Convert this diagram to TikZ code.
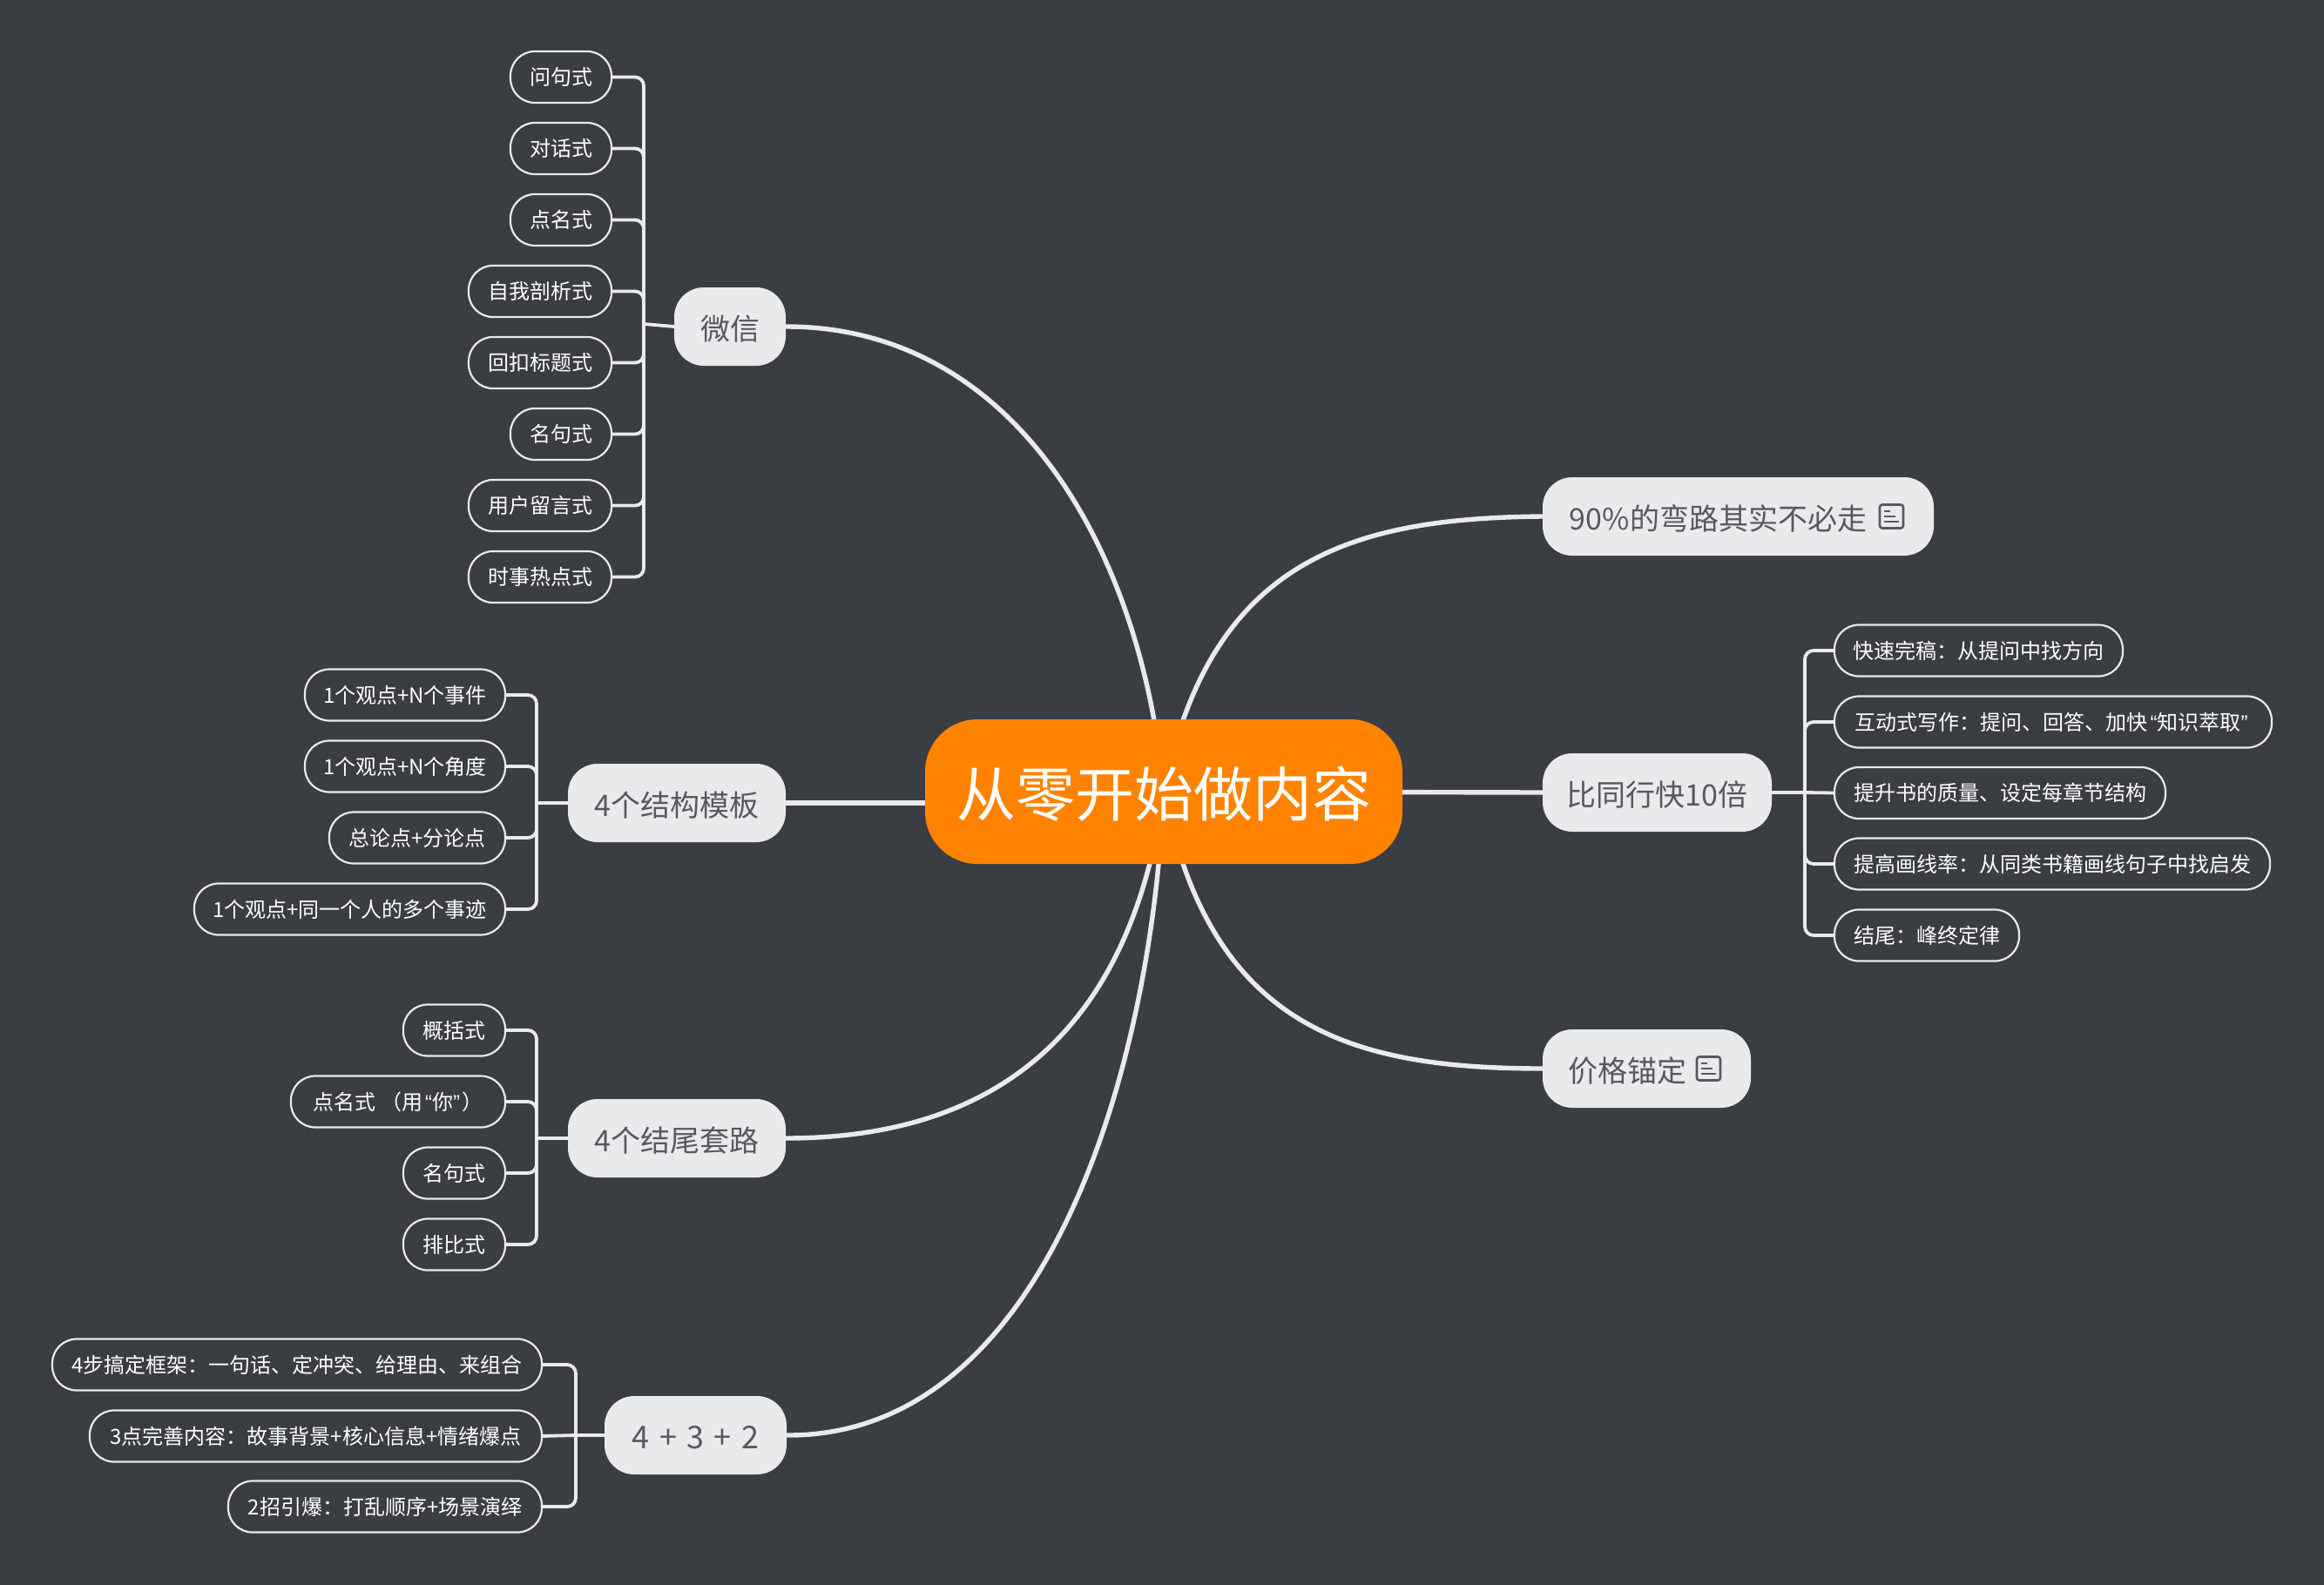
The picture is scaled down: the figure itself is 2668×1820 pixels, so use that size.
\documentclass[tikz,border=0pt]{standalone}
\usepackage{fontspec}
\setmainfont{Noto Sans CJK SC}
\newfontfamily\quotefont{Liberation Sans}
\pgfdeclarelayer{bg}\pgfdeclarelayer{conn}
\pgfsetlayers{bg,conn,main}
\definecolor{bgc}{HTML}{3A3D42}
\definecolor{linec}{HTML}{E9EAEC}
\definecolor{btext}{HTML}{56595E}
\definecolor{rootc}{HTML}{FF8300}
\tikzset{
 every node/.style={inner sep=0pt,outer sep=0pt,align=center},
 rootbox/.style={rectangle,fill=rootc,text=white,rounded corners=30pt,minimum height=83pt,text height=28pt,text depth=0pt,font=\fontsize{34}{40}\selectfont},
 branch/.style={rectangle,fill=linec,text=btext,rounded corners=17pt,minimum height=45pt,text height=15pt,text depth=0pt,font=\fontsize{17}{20}\selectfont},
 leaf/.style={rectangle,draw=linec,line width=1.1pt,text=white,rounded corners=14pt,minimum height=29.5pt,text height=9.4pt,text depth=0pt,font=\fontsize{12}{14}\selectfont},
 mainline/.style={draw=linec,line width=2.7pt},
 stem/.style={draw=linec,line width=1.9pt},
 tie/.style={draw=linec,line width=1.9pt,rounded corners=5pt},
 icon/.style={draw=btext,line width=1.3pt},
 iconbox/.style={icon,rounded corners=1.5pt},
}
\begin{document}
\begin{tikzpicture}[x=0.5pt,y=-0.5pt]
\begin{pgfonlayer}{bg}
\fill[bgc] (0,0) rectangle (2668,1820);
\end{pgfonlayer}
\useasboundingbox (0,0) rectangle (2668,1820);
% root
\node[rootbox,minimum width=274pt] (root) at (1336,909) {从零开始做内容};
% branches
\node[branch,minimum width=224.5pt] (b1) at (1995.5,593) {\hspace*{-23pt}90\%的弯路其实不必走};
\node[branch,minimum width=131.5pt] (b2) at (1902.5,910) {比同行快10倍};
\node[branch,minimum width=119.5pt] (b3) at (1890.5,1227) {\hspace*{-22pt}价格锚定};
\node[branch,minimum width=64pt] (w0) at (838,375) {微信};
\node[branch,minimum width=125pt] (s0) at (777,922) {4个结构模板};
\node[branch,minimum width=125pt] (e0) at (777,1307) {4个结尾套路};
\node[branch,minimum width=104.5pt] (f0) at (798.5,1648) {\fontsize{18}{20}\selectfont\spaceskip=5.75pt\relax 4 + 3 + 2};
% 微信 leaves
\node[leaf,minimum width=58pt] (w1) at (644,88.5) {问句式};
\node[leaf,minimum width=58pt] (w2) at (644,170.5) {对话式};
\node[leaf,minimum width=58pt] (w3) at (644,252.5) {点名式};
\node[leaf,minimum width=82pt] (w4) at (620,334.5) {自我剖析式};
\node[leaf,minimum width=82pt] (w5) at (620,416.5) {回扣标题式};
\node[leaf,minimum width=58pt] (w6) at (644,498.5) {名句式};
\node[leaf,minimum width=82pt] (w7) at (620,580.5) {用户留言式};
\node[leaf,minimum width=82pt] (w8) at (620,662.5) {时事热点式};
% 结构 leaves
\node[leaf,minimum width=115pt] (s1) at (465,798) {1个观点+N个事件};
\node[leaf,minimum width=115pt] (s2) at (465,880) {1个观点+N个角度};
\node[leaf,minimum width=101pt] (s3) at (479,962) {总论点+分论点};
\node[leaf,minimum width=178.5pt] (s4) at (401.5,1044) {1个观点+同一个人的多个事迹};
% 结尾 leaves
\node[leaf,minimum width=58.5pt] (e1) at (521.5,1183) {概括式};
\node[leaf,minimum width=123pt] (e2) at (457,1265) {点名式\kern 3pt （用\kern 1.5pt{\quotefont “}你{\quotefont ”}\kern 1.5pt）};
\node[leaf,minimum width=58.5pt] (e3) at (521.5,1347) {名句式};
\node[leaf,minimum width=58.5pt] (e4) at (521.5,1429) {排比式};
% 432 leaves
\node[leaf,minimum width=281pt] (f1) at (341,1567) {4步搞定框架：一句话、定冲突、给理由、来组合};
\node[leaf,minimum width=259.5pt] (f2) at (362.5,1649) {3点完善内容：故事背景+核心信息+情绪爆点};
\node[leaf,minimum width=180pt] (f3) at (442,1730) {2招引爆：打乱顺序+场景演绎};
% 比同行 leaves
\node[leaf,minimum width=165.5pt] (c1) at (2271.5,747) {快速完稿：从提问中找方向};
\node[leaf,minimum width=251pt] (c2) at (2357,829) {互动式写作：提问、回答、加快\kern 1.5pt{\quotefont “}知识萃取{\quotefont ”}\kern 2pt};
\node[leaf,minimum width=190pt] (c3) at (2296,910.5) {提升书的质量、设定每章节结构};
\node[leaf,minimum width=250pt] (c4) at (2356,992) {提高画线率：从同类书籍画线句子中找启发};
\node[leaf,minimum width=106pt] (c5) at (2212,1074) {结尾：峰终定律};
% note icons
\draw[iconbox] (2158,579.5) rectangle (2185,606.5);
\draw[icon] (2163,587) -- (2170,587) (2163,593) -- (2176,593) (2163,599) -- (2180,599);
\draw[iconbox] (1948,1213.5) rectangle (1975,1240.5);
\draw[icon] (1953,1221) -- (1960,1221) (1953,1227) -- (1966,1227) (1953,1233) -- (1970,1233);
% trunk junctions
\coordinate (wt) at (739,372);
\coordinate (st) at (616,922);
\coordinate (et) at (616,1307);
\coordinate (ft) at (661,1648);
\coordinate (ct) at (2072,910);
\begin{pgfonlayer}{conn}
\draw[mainline] (w0.east) .. controls (1170,375) and (1312,640) .. (root.center);
\draw[mainline] (b1.west) .. controls (1555,595) and (1390,640) .. (root.center);
\draw[mainline] (b2.west) -- (root.center);
\draw[mainline] (b3.west) .. controls (1550,1227) and (1390,1180) .. (root.center);
\draw[mainline] (s0.east) -- (s0.east -| root.west);
\draw[mainline] (e0.east) .. controls (1100,1307) and (1292,1225) .. (root.center);
\draw[mainline] (f0.east) .. controls (1200,1650) and (1322,1230) .. (root.center);
\draw[stem] (w0.west) -- (wt);
\draw[stem] (s0.west) -- (st);
\draw[stem] (e0.west) -- (et);
\draw[stem] (f0.west) -- (ft);
\draw[stem] (b2.east) -- (ct);
\foreach \a in {w1,w2,w3,w4,w5,w6,w7,w8} \draw[tie] (wt) |- (\a.east);
\foreach \a in {s1,s2,s3,s4} \draw[tie] (st) |- (\a.east);
\foreach \a in {e1,e2,e3,e4} \draw[tie] (et) |- (\a.east);
\foreach \a in {f1,f3} \draw[tie] (ft) |- (\a.east);
\draw[stem] (ft) -- (f2.east);
\foreach \a in {c1,c2,c4,c5} \draw[tie] (ct) |- (\a.west);
\draw[stem] (ct) -- (c3.west);
\end{pgfonlayer}
\end{tikzpicture}
\end{document}
